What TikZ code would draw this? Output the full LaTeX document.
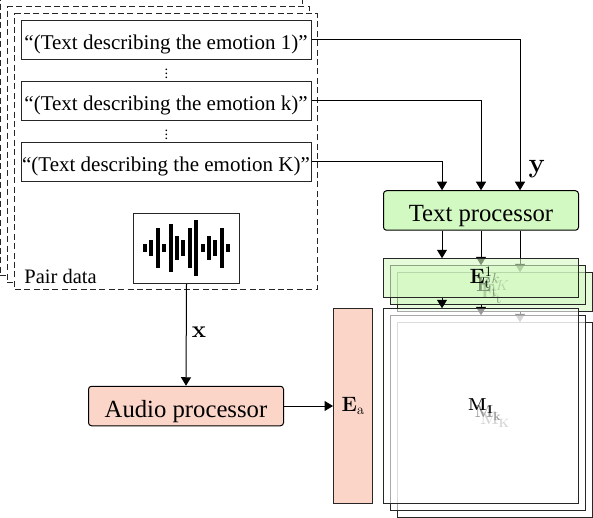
\documentclass[tikz,border=0pt]{standalone}
\usepackage[no-math]{fontspec}
\setmainfont{Liberation Serif}
\usepackage{xcolor}
\usepackage{tikz}
\usetikzlibrary{arrows.meta}
\DeclareMathSizes{14.4}{14.4}{10}{7}
\DeclareMathSizes{17.28}{17.28}{12}{10}
\DeclareMathSizes{20.74}{20.74}{14.4}{10}
\DeclareMathSizes{24.88}{24.88}{17.28}{12}
\definecolor{procgreen}{HTML}{D3F9C2}
\definecolor{procpeach}{HTML}{FBD5C8}
\tikzset{
  pairbox/.style={draw=black!85, line width=1pt, dash pattern=on 6pt off 3.4pt, fill=white, minimum width=302.5pt, minimum height=275pt, inner sep=0pt},
  txtbox/.style={draw=black!85, line width=1pt, fill=white, minimum width=290pt, minimum height=39pt, inner sep=0pt, text height=21pt, text depth=2.4pt, font=\fontsize{21}{24}\selectfont},
  procbox/.style={draw=black, line width=1pt, rounded corners=3pt, minimum width=195pt, minimum height=39.5pt, inner sep=0pt, text height=24pt, text depth=2pt, font=\fontsize{24.7}{28}\selectfont},
  etbox/.style={draw=black!85, line width=1pt, fill=procgreen, fill opacity=0.6, text opacity=1, minimum width=195pt, minimum height=38.5pt, inner sep=0pt, font=\fontsize{20.74}{24}\selectfont},
  mbox/.style={draw=black!85, line width=1pt, fill=white, fill opacity=0.6, text opacity=1, minimum width=195pt, minimum height=194.5pt, inner sep=0pt, font=\fontsize{17.28}{20}\selectfont},
  conn/.style={draw=black, line width=1pt, -{Triangle[length=8.5pt,width=10pt]}},
}
\begin{document}
\begin{tikzpicture}[x=1pt,y=-1pt]
\useasboundingbox (0,0) rectangle (593,518);
% pair data
\node[pairbox] (pairK) at (151.5,137.5) {};
\node[pairbox] (pairk) at (158.5,144.5) {};
\node[pairbox] (pair1) at (166,151.5) {};
\node[anchor=base, inner sep=0pt, font=\fontsize{20.5}{24}\selectfont] (pairlab) at (60.5,283) {Pair data};
\node[txtbox] (txt1) at (166,40) {``(Text describing the emotion 1)''};
\node[txtbox] (txtk) at (166,101) {``(Text describing the emotion k)''};
\node[txtbox] (txtK) at (166,162) {``(Text describing the emotion K)''};
\node[inner sep=0pt, font=\fontsize{14.4}{16}\selectfont] (dots1) at (166.5,70.5) {$\vdots$};
\node[inner sep=0pt, font=\fontsize{14.4}{16}\selectfont] (dots2) at (166.5,131.5) {$\vdots$};
% waveform
\node[draw=black!85, line width=1pt, fill=white, minimum width=106pt, minimum height=70pt, inner sep=0pt] (wave) at (186.5,248.5) {};
\foreach \bx/\bh in {145/4,151.4/8,157.8/20,164.2/4,170.6/24,177/12,183.4/8,189.8/20,196.2/28,202.6/4,209/12,215.4/8,221.8/20,228.2/4}
  \fill[black] (\bx-2,248-\bh) rectangle (\bx+2,248+\bh);
% processors
\node[procbox, fill=procgreen] (tp) at (481,210.5) {Text processor};
\node[procbox, fill=procpeach] (ap) at (186,406) {Audio processor};
\node[draw=black!85, line width=1pt, fill=procpeach, minimum width=39pt, minimum height=194.5pt, inner sep=0pt, font=\fontsize{20.74}{24}\selectfont] (ea) at (353,406) {$\mathbf{E}_{\mathrm{a}}$};
% stacked layers, back to front
\foreach \off/\lab/\dx in {14/K/39,7/k/0,0/1/-39}{
  \coordinate (tap\lab) at ([xshift=\dx pt]tp.south);
  \node[etbox] (et\lab) at (481+\off,278+\off) {$\mathbf{E}_{\mathrm{t}}^{\lab}$};
  \node[mbox] (mm\lab) at (481+\off,406+\off) {$\mathbf{M}_{\mathbf{\lab}}$};
  \draw[conn] (tap\lab) -- (tap\lab |- et\lab.north);
  \draw[conn] (tap\lab |- et\lab.south) -- (tap\lab |- mm\lab.north);
}
% connectors
\draw[conn] (txt1.east) -| ([xshift=39pt]tp.north);
\draw[conn] (txtk.east) -| (tp.north);
\draw[conn] (txtK.east) -| ([xshift=-39pt]tp.north);
\draw[conn] (wave.south) -- (ap.north);
\draw[conn] (ap.east) -- (ea.west);
\node[inner sep=0pt, scale=1.1, font=\fontsize{24.88}{28}\selectfont] (ylab) at (537,169) {$\mathbf{y}$};
\node[inner sep=0pt, scale=1.15, font=\fontsize{20.74}{24}\selectfont] (xlab) at (199,332) {$\mathbf{x}$};
\end{tikzpicture}
\end{document}
